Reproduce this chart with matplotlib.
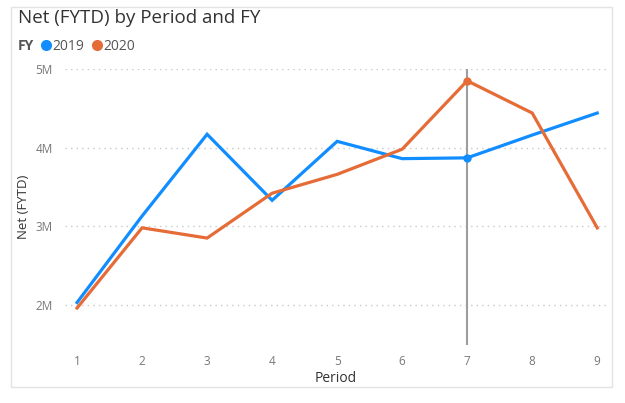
import matplotlib.pyplot as plt
import matplotlib.patches as mpatches
from matplotlib.lines import Line2D

plt.rcParams['font.family'] = ['Open Sans', 'DejaVu Sans']

# values (millions)
periods = [1, 2, 3, 4, 5, 6, 7, 8, 9]
fy2019 = [2.03, 3.13, 4.17, 3.33, 4.08, 3.86, 3.87, 4.16, 4.44]
fy2020 = [1.96, 2.98, 2.85, 3.42, 3.66, 3.98, 4.85, 4.44, 2.98]
yticks = [2, 3, 4, 5]
ytick_labels = ['2M', '3M', '4M', '5M']
hover_period = 7

blue = '#118DFF'
orange = '#E66C37'
W, H = 625, 403

fig = plt.figure(figsize=(W / 100, H / 100), dpi=100)
fig.patch.set_facecolor('white')

# light frame around the visual
frame = mpatches.Rectangle((11 / W, 1 - 387 / H), 601 / W, 380 / H,
                           transform=fig.transFigure, fill=False,
                           edgecolor='#E3E3E3', linewidth=1)
fig.patches.append(frame)

ax = fig.add_axes([65 / W, 1 - 345 / H, 542 / W, 276 / H])
ax.set_xlim(0.815, 9.15)
ax.set_ylim(1.49, 5.0)

for s in ax.spines.values():
    s.set_visible(False)

ax.set_yticks(yticks)
ax.set_yticklabels(ytick_labels)
ax.set_xticks(periods)
ax.tick_params(length=0, labelsize=8.5, colors='#777777')
ax.tick_params(axis='y', pad=9)
ax.tick_params(axis='x', pad=7)
ax.yaxis.grid(True, color='#C8C8C8', linestyle=(0, (1, 3)), linewidth=1)
ax.set_axisbelow(True)

ax.axvline(hover_period, color='#9E9E9E', linewidth=1.5, zorder=1)

i = periods.index(hover_period)
ax.plot(periods, fy2019, color=blue, linewidth=2.3, solid_joinstyle='miter', zorder=3)
ax.plot(periods, fy2020, color=orange, linewidth=2.3, solid_joinstyle='miter', zorder=3)
ax.plot([hover_period], [fy2019[i]], 'o', color=blue, markersize=5, zorder=4)
ax.plot([hover_period], [fy2020[i]], 'o', color=orange, markersize=5, zorder=4)

ax.set_xlabel('Period', fontsize=10, color='#333333', labelpad=2)
ax.set_ylabel('Net (FYTD)', fontsize=9.5, color='#333333', labelpad=4)

fig.text(18 / W, 1 - 18 / H, 'Net (FYTD) by Period and FY', fontsize=13.5,
         color='#333333', va='center', ha='left')
fig.text(18 / W, 1 - 46 / H, 'FY', fontsize=10, fontweight='bold',
         color='#555555', va='center', ha='left')

handles = [Line2D([], [], marker='o', linestyle='', color=blue, markersize=7),
           Line2D([], [], marker='o', linestyle='', color=orange, markersize=7)]
fig.legend(handles, ['2019', '2020'], loc='center left',
           bbox_to_anchor=(41 / W, 1 - 46 / H), ncol=2, frameon=False,
           fontsize=10, handlelength=0.7, handletextpad=0.1, columnspacing=0.6,
           labelcolor='#555555', borderaxespad=0, borderpad=0)

fig.savefig('out.png', dpi=100)
